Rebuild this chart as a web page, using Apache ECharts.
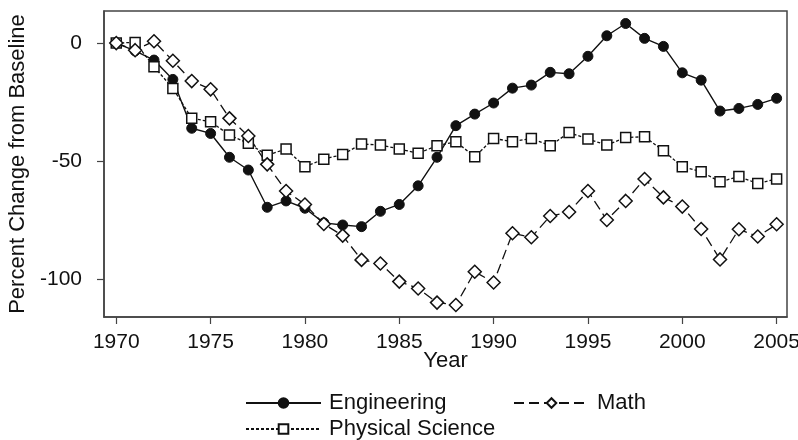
<!DOCTYPE html>
<html>
<head>
<meta charset="utf-8">
<script src="https://cdn.jsdelivr.net/npm/echarts@6/dist/echarts.min.js"></script>
<style>
  html, body { margin: 0; padding: 0; background: #fff; }
  #chart { width: 798px; height: 440px; }
</style>
</head>
<body>
<div id="chart"></div>
<script>
// data
const years = [];
for (let y = 1970; y <= 2005; y++) years.push(y);

const engineering = [0, -3.3, -7.2, -15.4, -36.1, -38.3, -48.4, -53.8, -69.6, -66.9,
  -70, -76.2, -77.1, -77.8, -71.3, -68.4, -60.5, -48.4, -35.0, -30.1,
  -25.4, -19.1, -17.8, -12.4, -13.0, -5.6, 3.1, 8.3, 2.0, -1.4,
  -12.6, -15.7, -28.8, -27.7, -26.0, -23.4]

const physicalScience = [0, 0.3, -10.0, -19.2, -31.9, -33.3, -39.0, -42.5, -47.5, -44.9,
  -52.4, -49.2, -47.2, -42.8, -43.2, -44.9, -46.7, -43.5, -41.8, -48.2,
  -40.4, -41.8, -40.4, -43.5, -37.9, -40.7, -43.2, -40.0, -39.7, -45.6,
  -52.4, -54.5, -58.8, -56.6, -59.5, -57.6]

const math = [0, -3, 0.8, -7.5, -16.1, -19.6, -31.9, -39.4, -51.4, -62.7,
  -68.4, -76.7, -81.6, -91.9, -93.4, -101.1, -104, -110, -111, -96.9,
  -101.5, -80.6, -82.3, -73.3, -71.6, -62.7, -75.0, -66.9, -57.6, -65.4,
  -69.3, -78.8, -91.7, -78.9, -82, -76.8]

const xTicks = [1970, 1975, 1980, 1985, 1990, 1995, 2000, 2005]
const yTicks = [-100, -50, 0]

const pair = arr => years.map((y, i) => [y, arr[i]])

let myChart = echarts.init(document.getElementById('chart'))
const font = 'Liberation Sans, Arial, sans-serif'
const ink = '#111'

let legendBase = {
    orient: 'horizontal',
    itemWidth: 75,
    itemHeight: 12,
    textStyle: {fontSize: 22, color: ink, fontFamily: font, padding: [0, 0, 0, 3]},
    padding: 0
}

let options = {
    animation: false,
    grid: {
        left: 104,
        right: 11,
        top: 11,
        bottom: 123,
        outerBoundsMode: 'none',
        containLabel: false,
        show: true,
        borderColor: '#444',
        borderWidth: 1.5
    },
    legend: [
        Object.assign({}, legendBase, {data: ['Engineering'], left: 245, top: 392}),
        Object.assign({}, legendBase, {data: ['Math'], left: 513, top: 392}),
        Object.assign({}, legendBase, {data: ['Physical Science'], left: 245, top: 418})
    ],
    xAxis: {
        type: 'value',
        min: 1969.35,
        max: 2005.55,
        name: 'Year',
        nameLocation: 'middle',
        nameGap: 33,
        nameMoveOverlap: false,
        nameTextStyle: {fontSize: 22, color: ink, fontFamily: font},
        axisLine: {show: true, onZero: false, lineStyle: {color: '#444', width: 1.5}},
        axisTick: {show: true, length: 7, customValues: xTicks, lineStyle: {color: '#444', width: 1.2}},
        axisLabel: {
            customValues: xTicks, margin: 15, fontSize: 21, color: ink, fontFamily: font,
            formatter: v => String(v)
        },
        splitLine: {show: false}
    },
    yAxis: {
        type: 'value',
        min: -116.1,
        max: 13.6,
        name: 'Percent Change from Baseline',
        nameLocation: 'middle',
        nameGap: 75,
        nameMoveOverlap: false,
        nameTextStyle: {fontSize: 22, color: ink, fontFamily: font},
        axisLine: {show: true, lineStyle: {color: '#444', width: 1.5}},
        axisTick: {show: true, length: 7, customValues: yTicks, lineStyle: {color: '#444', width: 1.2}},
        axisLabel: {customValues: yTicks, margin: 22, fontSize: 21, color: ink, fontFamily: font},
        splitLine: {show: false}
    },
    series: [{
        name: 'Engineering',
        type: 'line',
        symbol: 'circle',
        symbolSize: 10,
        lineStyle: {color: ink, width: 1.4, type: 'solid'},
        itemStyle: {color: ink, borderColor: ink, borderWidth: 1},
        data: pair(engineering)
    }, {
        name: 'Physical Science',
        type: 'line',
        symbol: 'rect',
        symbolSize: 10,
        lineStyle: {color: ink, width: 1.3, type: [3, 2]},
        itemStyle: {color: '#fff', borderColor: ink, borderWidth: 1.5},
        data: pair(physicalScience)
    }, {
        name: 'Math',
        type: 'line',
        symbol: 'diamond',
        symbolSize: 13,
        lineStyle: {color: ink, width: 1.3, type: [10, 5]},
        itemStyle: {color: '#fff', borderColor: ink, borderWidth: 1.5},
        data: pair(math)
    }]
}
myChart.setOption(options)
</script>
</body>
</html>
